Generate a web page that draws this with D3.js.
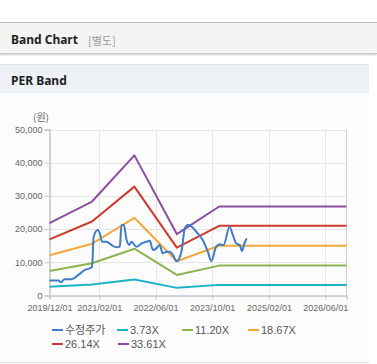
<!DOCTYPE html>
<html>
<head>
<meta charset="utf-8">
<script src="https://cdn.jsdelivr.net/npm/d3@7"></script>
<style>
  body { margin: 0; background: #fff; font-family: "Liberation Sans", Arial, "Noto Sans CJK KR", sans-serif; }
  #page { position: relative; width: 377px; height: 364px; overflow: hidden; }
  .hdr { position: absolute; left: 0; top: 22px; width: 377px; height: 30px; background: #f4f4f4;
         border-top: 1px solid #bdbdbd; border-bottom: 1px solid #c8c8c8; box-shadow: 0 1px 2px #ccc; }
  .hdr b { position: absolute; left: 11px; top: 8px; font-size: 12px; color: #222; font-family: "Noto Sans", "Noto Sans CJK KR", sans-serif; }
  .hdr span { position: absolute; left: 88px; top: 9px; font-size: 11px; color: #999; font-family: "Noto Sans CJK KR", sans-serif; }
  .sec { position: absolute; left: 0; top: 64px; width: 369px; height: 29px; background: #eef2f7; border-top: 1px solid #dde3ea; }
  .sec b { position: absolute; left: 11px; top: 7px; font-size: 12px; color: #222; font-family: "Noto Sans", sans-serif; }
  .box { position: absolute; left: 0; top: 93px; width: 369px; height: 269px; background: #fcfcfc; border-bottom: 1px solid #ddd; }
  svg { position: absolute; left: 0; top: 0; }
</style>
</head>
<body>
<div id="page">
  <div class="hdr"><b>Band Chart</b><span>[별도]</span></div>
  <div class="sec"><b>PER Band</b></div>
  <div class="box"></div>
</div>
<script>
const priceDates = ['2019-12-01','2020-02-15','2020-03-10','2020-04-07','2020-06-10','2020-08-05','2020-10-01',
  '2020-12-01','2020-12-15','2021-01-20','2021-02-10','2021-02-25','2021-04-05','2021-05-18','2021-07-01',
  '2021-07-28','2021-08-12','2021-09-01','2021-09-25','2021-10-18','2021-11-05','2021-12-18','2022-02-01',
  '2022-03-15','2022-04-12','2022-05-10','2022-06-08','2022-07-05','2022-08-03','2022-09-02','2022-10-01',
  '2022-10-30','2022-11-28','2023-01-10','2023-02-08','2023-03-06','2023-04-05','2023-05-18','2023-07-12',
  '2023-08-25','2023-09-24','2023-11-05','2023-12-04','2024-01-08','2024-02-28','2024-03-28','2024-04-25',
  '2024-05-25','2024-06-15','2024-07-05','2024-07-25'];
const priceValues = [4500, 4500, 4000, 4900, 4900, 6200, 7700,
  8500, 17700, 19700, 18200, 16200, 16200, 15200, 14500,
  14700, 21200, 21200, 16700, 15200, 16200, 14700, 15700,
  16200, 16500, 13700, 14200, 15200, 12700, 13200, 13200,
  12200, 10300, 13200, 20200, 21200, 20800, 19200, 16700,
  13200, 10400, 14700, 15400, 15200, 20700, 18200, 15700,
  15200, 13400, 15700, 17200];

const bandDates = ['2019-12-01','2020-12-01','2021-12-01','2022-12-01','2023-12-01','2026-12-01'];
const bandNames = ['3.73X','11.20X','18.67X','26.14X','33.61X'];
const band373 = [2600, 3300, 4800, 2300, 3200, 3200];
const band1120 = [7400, 9700, 14100, 6200, 9000, 9000];
const band1867 = [12100, 15600, 23400, 10300, 15000, 15000];
const band2614 = [16900, 22300, 32800, 14400, 21000, 21000];
const band3361 = [21800, 28300, 42200, 18500, 26800, 26800];

const xTickLabels = ['2019/12/01','2021/02/01','2022/06/01','2023/10/01','2025/02/01','2026/06/01'];
const yTicks = [0, 10000, 20000, 30000, 40000, 50000];

const parse = d3.timeParse('%Y-%m-%d');
const parseTick = d3.timeParse('%Y/%m/%d');

const colors = ['#3f7cc8', '#1cb3c8', '#8cb44e', '#f2a83a', '#cf3a2c', '#8c4f9d'];
const series = [
  { name: '수정주가', dates: priceDates, values: priceValues },
  ...[band373, band1120, band1867, band2614, band3361].map((v, i) => ({ name: bandNames[i], dates: bandDates, values: v }))
];

const W = 377, H = 364;
const M = { left: 49.5, right: 346.5, top: 129.5, bottom: 295.5 };

const svg = d3.select('#page').append('svg')
  .attr('width', W).attr('height', H);

const x = d3.scaleTime()
  .domain([parse('2019-12-01'), parse('2026-12-01')])
  .range([M.left, M.right]);
const y = d3.scaleLinear()
  .domain([0, 50000])
  .range([M.bottom, M.top]);

const tickDates = xTickLabels.map(parseTick);

// grid
svg.append('g').selectAll('line.h')
  .data(yTicks).join('line')
  .attr('x1', M.left).attr('x2', M.right)
  .attr('y1', d => Math.round(y(d)) + 0.5).attr('y2', d => Math.round(y(d)) + 0.5)
  .attr('stroke', '#e6e6e6');
svg.append('g').selectAll('line.v')
  .data(tickDates).join('line')
  .attr('x1', d => Math.round(x(d)) + 0.5).attr('x2', d => Math.round(x(d)) + 0.5)
  .attr('y1', M.top).attr('y2', M.bottom)
  .attr('stroke', '#e6e6e6');
svg.append('line')
  .attr('x1', M.right).attr('x2', M.right).attr('y1', M.top).attr('y2', M.bottom)
  .attr('stroke', '#d0d0d0');

// axes
const yAxis = svg.append('g')
  .attr('transform', `translate(${M.left},0)`)
  .call(d3.axisLeft(y).tickValues(yTicks).tickSize(5).tickPadding(2).tickFormat(d3.format(',')));
const xAxis = svg.append('g')
  .attr('transform', `translate(0,${M.bottom})`)
  .call(d3.axisBottom(x).tickValues(tickDates).tickSize(4).tickPadding(3).tickFormat(d3.timeFormat('%Y/%m/%d')));
[yAxis, xAxis].forEach(g => {
  g.select('.domain').attr('stroke', '#c8c8c8').attr('stroke-width', 1.5);
  g.selectAll('.tick line').attr('stroke', '#c8c8c8');
  g.selectAll('text').attr('fill', '#666').attr('font-size', 9)
    .attr('font-family', '"Liberation Sans", Arial, sans-serif');
});
xAxis.selectAll('text').attr('dy', '0.9em');

svg.append('text')
  .attr('x', 33).attr('y', 121)
  .attr('fill', '#666').attr('font-size', 10)
  .attr('font-family', '"Noto Sans CJK KR", sans-serif')
  .text('(원)');

// lines: bands straight, price smoothed
const bandLine = d3.line()
  .x(d => x(d[0])).y(d => y(d[1]));
const priceLine = d3.line()
  .x(d => x(d[0])).y(d => y(d[1]))
  .curve(d3.curveMonotoneX);
const order = [1, 2, 3, 4, 5, 0];
svg.append('g').selectAll('path')
  .data(order.map(i => series[i]))
  .join('path')
  .attr('d', s => (s === series[0] ? priceLine : bandLine)(s.dates.map((d, i) => [parse(d), s.values[i]])))
  .attr('fill', 'none')
  .attr('stroke', s => colors[series.indexOf(s)])
  .attr('stroke-width', 2)
  .attr('stroke-linejoin', 'round');

// legend
const legendPos = [[52, 330], [117, 330], [182, 330], [248, 330], [52, 344], [118, 344]];
const lg = svg.append('g').selectAll('g')
  .data(series).join('g')
  .attr('transform', (d, i) => `translate(${legendPos[i][0]},${legendPos[i][1]})`);
lg.append('line')
  .attr('x1', 0).attr('x2', 11).attr('y1', 0).attr('y2', 0)
  .attr('stroke', (d, i) => colors[i]).attr('stroke-width', 2);
lg.append('text')
  .attr('x', 13).attr('y', 4)
  .attr('fill', '#555').attr('font-size', 11)
  .attr('font-family', '"Liberation Sans", Arial, "Noto Sans CJK KR", sans-serif')
  .text(d => d.name);
</script>
</body>
</html>
